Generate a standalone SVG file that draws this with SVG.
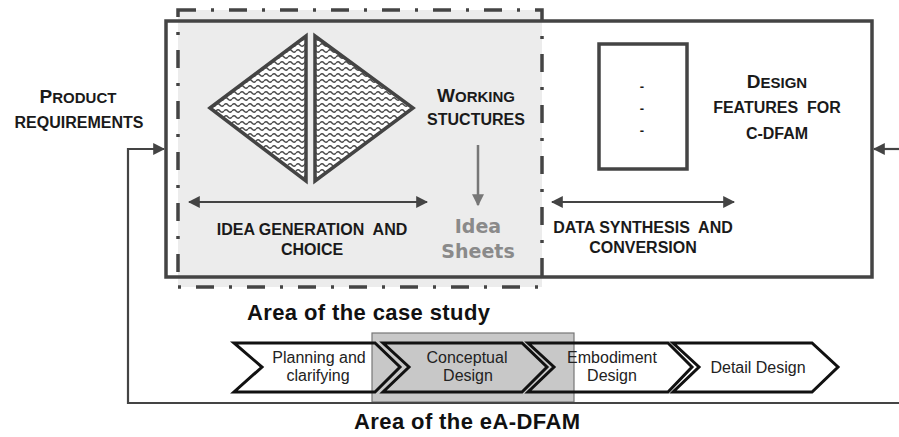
<svg xmlns="http://www.w3.org/2000/svg" width="899" height="437" viewBox="0 0 899 437">
<style>
.cap{font-family:"Liberation Sans",Arial,sans-serif;font-weight:bold;fill:#1a1a1a;text-anchor:middle;white-space:pre}
.big{font-family:"Liberation Sans",Arial,sans-serif;font-weight:bold;fill:#111}
.chev{fill:none;stroke:#111;stroke-width:3;stroke-linejoin:miter}
.ct{font-family:"Liberation Sans",Arial,sans-serif;font-size:16px;fill:#222;text-anchor:middle}
.conn{fill:none;stroke:#444;stroke-width:2.2}
.tri{fill:url(#wave);stroke:#444;stroke-width:3.5;stroke-linejoin:miter}
</style>
<defs>
<pattern id="wave" width="8" height="6" patternUnits="userSpaceOnUse">
<rect width="8" height="6" fill="#fff"/>
<path d="M0 3 Q2 0.6 4 3 T8 3" fill="none" stroke="#4a4a4a" stroke-width="1.4"/>
</pattern>
<marker id="ah" viewBox="0 0 10 10" refX="9" refY="5" markerWidth="12" markerHeight="12" markerUnits="userSpaceOnUse" orient="auto-start-reverse">
<path d="M0 0 L10 5 L0 10 Z" fill="#444"/>
</marker>
<marker id="ahg" viewBox="0 0 10 10" refX="9" refY="5" markerWidth="12" markerHeight="12" markerUnits="userSpaceOnUse" orient="auto">
<path d="M0 0 L10 5 L0 10 Z" fill="#777"/>
</marker>
</defs>
<rect width="899" height="437" fill="#fff"/>

<g id="case-study-area">
<rect x="178" y="10" width="364" height="277" fill="#ececec"/>
</g>

<g id="cdfam-box">
<rect x="166" y="21" width="706" height="256" fill="none" stroke="#444" stroke-width="3.5"/>
</g>

<g id="case-study-border">
<rect x="178" y="10" width="364" height="277" fill="none" stroke="#444" stroke-width="3.5" stroke-dasharray="18 15 3 15"/>
</g>

<g id="idea-triangles">
<polygon class="tri" points="210,108 306,36 306,181"/>
<polygon class="tri" points="315,36 315,181 413,108"/>
</g>

<g id="working-structures">
<text class="cap" x="476" y="102"><tspan font-size="19">W</tspan><tspan font-size="15">ORKING</tspan></text>
<text class="cap" x="476" y="125" font-size="16">STUCTURES</text>
</g>

<g id="idea-sheets">
<text x="478" y="233" font-family="'DejaVu Sans',sans-serif" font-weight="bold" font-size="19" fill="#8a8a8a" text-anchor="middle">Idea</text>
<text x="478" y="258" font-family="'DejaVu Sans',sans-serif" font-weight="bold" font-size="19" fill="#8a8a8a" text-anchor="middle">Sheets</text>
</g>

<g id="idea-generation">
<text class="cap" x="312" y="235" font-size="16" xml:space="preserve">IDEA GENERATION  AND</text>
<text class="cap" x="312" y="255" font-size="16">CHOICE</text>
</g>

<g id="feature-list">
<rect x="599" y="44" width="88" height="125" fill="#fff" stroke="#444" stroke-width="3.5"/>
<text class="cap" x="642" y="91" font-size="13" font-weight="normal">-</text>
<text class="cap" x="642" y="113" font-size="13" font-weight="normal">-</text>
<text class="cap" x="642" y="135" font-size="13" font-weight="normal">-</text>
</g>

<g id="design-features">
<text class="cap" x="777" y="88"><tspan font-size="19">D</tspan><tspan font-size="15">ESIGN</tspan></text>
<text class="cap" x="777" y="113" font-size="16" xml:space="preserve">FEATURES  FOR</text>
<text class="cap" x="777" y="139" font-size="16">C-DFAM</text>
</g>

<g id="data-synthesis">
<text class="cap" x="643" y="233" font-size="16" xml:space="preserve">DATA SYNTHESIS  AND</text>
<text class="cap" x="643" y="253" font-size="16">CONVERSION</text>
</g>

<g id="product-requirements">
<text class="cap" x="78" y="103"><tspan font-size="19">P</tspan><tspan font-size="15">RODUCT</tspan></text>
<text class="cap" x="79" y="128" font-size="16">REQUIREMENTS</text>
</g>

<g id="area-labels">
<text class="big" x="247" y="320" font-size="22" textLength="243">Area of the case study</text>
<text class="big" x="354" y="429" font-size="22" textLength="226">Area of the eA-DFAM</text>
</g>

<g id="eadfam-area">
<rect x="372" y="333" width="202" height="69" fill="#c8c8c8" stroke="#777" stroke-width="1.2"/>
</g>

<g id="phase-planning">
<polygon class="chev" points="234,343 375,343 400,367 375,392 234,392 262,367"/>
<text class="ct" x="319" y="363">Planning and</text>
<text class="ct" x="318" y="381">clarifying</text>
</g>
<g id="phase-conceptual">
<polygon class="chev" points="383,343 522,343 547,367 522,392 383,392 409,367"/>
<text class="ct" x="467" y="363">Conceptual</text>
<text class="ct" x="468" y="381">Design</text>
</g>
<g id="phase-embodiment">
<polygon class="chev" points="528,343 668,343 692,367 668,392 528,392 554,367"/>
<text class="ct" x="612" y="363">Embodiment</text>
<text class="ct" x="612" y="381">Design</text>
</g>
<g id="phase-detail">
<polygon class="chev" points="673,343 812,343 838,367 812,392 673,392 699,367"/>
<text class="ct" x="758" y="373">Detail Design</text>
</g>

<g id="connectors">
<path class="conn" d="M899 403 H128 V149 H164" marker-end="url(#ah)"/>
<path class="conn" d="M899 149 H874" marker-end="url(#ah)"/>
<path class="conn" d="M189 202 H427" marker-start="url(#ah)" marker-end="url(#ah)"/>
<path class="conn" d="M552 202 H734" marker-start="url(#ah)" marker-end="url(#ah)"/>
<path fill="none" stroke="#777" stroke-width="2.5" d="M478 145 V205" marker-end="url(#ahg)"/>
</g>
</svg>
